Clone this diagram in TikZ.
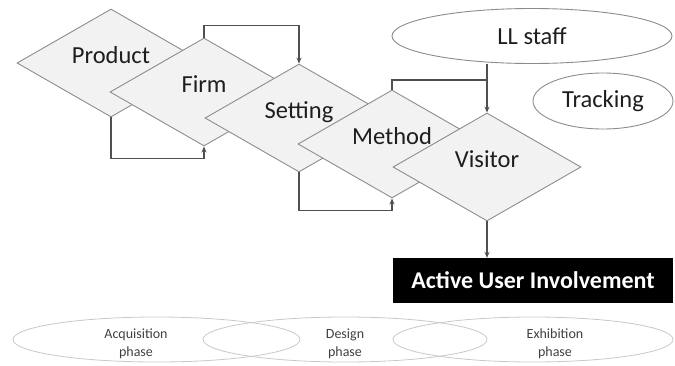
\documentclass[tikz,border=0pt]{standalone}
\usepackage{fontspec}
\setmainfont{Carlito}
\usetikzlibrary{shapes.geometric,arrows.meta}
\definecolor{diafill}{HTML}{F2F2F2}
\definecolor{diaedge}{HTML}{8C8C8C}
\definecolor{linec}{HTML}{505050}
\definecolor{txt}{HTML}{1E1E1E}
\definecolor{phaseedge}{HTML}{C8C8C8}
\definecolor{phasetxt}{HTML}{404040}
\begin{document}
\begin{tikzpicture}[x=1pt,y=-1pt,
  dia/.style={diamond, draw=diaedge, fill=diafill, line width=0.9pt,
    minimum width=188pt, minimum height=108pt, inner sep=0pt},
  dlab/.style={font=\fontsize{24.5}{28}\selectfont, text=txt, inner sep=0pt, anchor=base},
  ell/.style={ellipse, draw=diaedge, line width=0.9pt, fill=white, inner sep=0pt,
    font=\fontsize{24.5}{28}\selectfont, text=txt},
  phase/.style={ellipse, draw=phaseedge, line width=0.8pt, minimum height=45pt, inner sep=0pt},
  ptxt/.style={font=\fontsize{14}{18}\selectfont, text=phasetxt, align=center, inner sep=0pt},
  conn/.style={draw=linec, line width=1.1pt},
  arr/.style={conn, -{Stealth[length=6pt,width=5pt]}}]
\useasboundingbox (0,0) rectangle (675,365);

% phase ellipses
\node[phase, minimum width=287pt] (acq) at (156.5,339.5) {};
\node[phase, minimum width=284pt] (des) at (345,339.5) {};
\node[phase, minimum width=280pt] (exh) at (533,339.5) {};
\node[ptxt] (acqt) at (136,344) {Acquisition\\phase};
\node[ptxt] (dest) at (345,344) {Design\\phase};
\node[ptxt] (exht) at (555,344) {Exhibition\\phase};

% diamonds
\node[dia] (product) at (111,63) {};
\node[dlab] (productt) at (product.center) {Product};
\node[dia] (firm) at (204,92) {};
\node[dlab] (firmt) at (firm.center) {Firm};
\node[dia] (setting) at (299,118) {};
\node[dlab] (settingt) at (setting.center) {Setting};
\node[dia] (method) at (392,144) {};
\node[dlab] (methodt) at (method.center) {Method};
\node[dia] (visitor) at (487,167) {};
\node[dlab] (visitort) at (visitor.center) {Visitor};

% ellipses
\node[ell, minimum width=280pt, minimum height=55pt] (staff) at (532,36) {LL staff};
\node[ell, minimum width=140pt, minimum height=56pt] (track) at (603,101) {Tracking};

% result box
\node[fill=black, text=white, font=\fontsize{24}{28}\selectfont\bfseries,
  minimum width=280pt, minimum height=45pt, inner sep=0pt] (aui) at (533,280.5) {Active User Involvement};

% connectors
\draw[arr] (product.south) -- ++(0,41) -| (firm.south);
\draw[arr] (firm.north) -- ++(0,-12) -| (setting.north);
\draw[arr] (setting.south) -- ++(0,38) -| (method.south);
\coordinate (br) at (487,80);
\draw[arr] (staff.south -| visitor.north) -- (visitor.north);
\draw[conn] (br) -| (method.north);
\draw[arr] (visitor.south) -- (visitor.south |- aui.north);
\end{tikzpicture}
\end{document}
